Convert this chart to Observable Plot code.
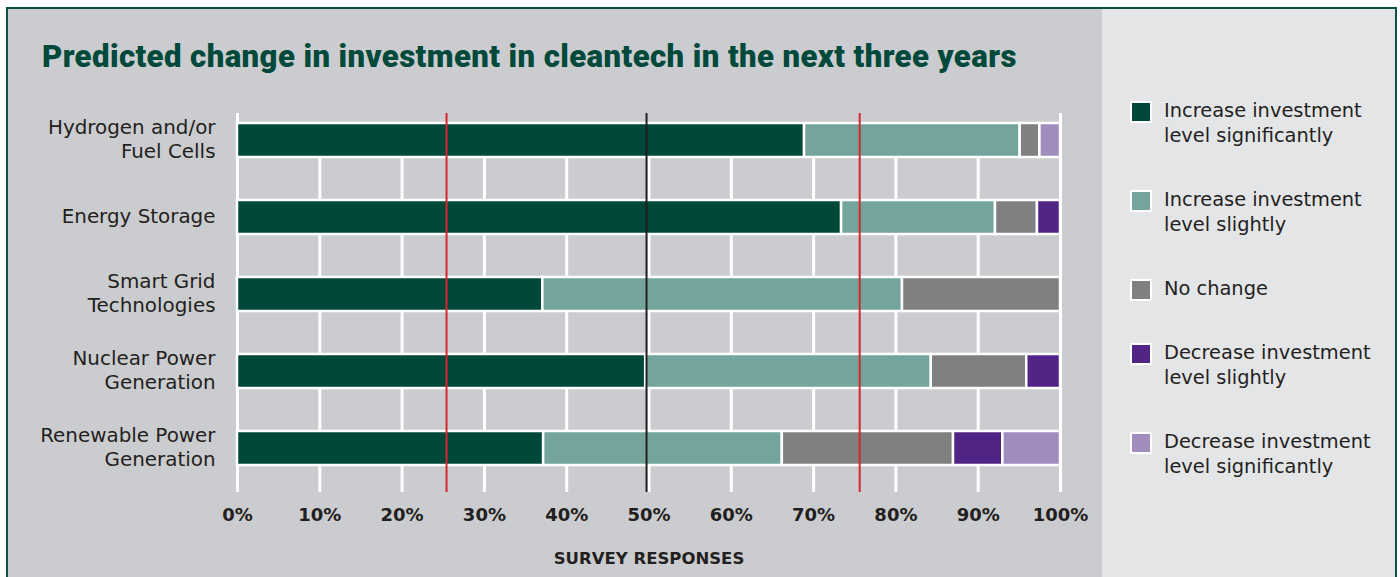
<!DOCTYPE html>
<html>
<head>
<meta charset="utf-8">
<script src="https://cdn.jsdelivr.net/npm/d3@7"></script>
<script src="https://cdn.jsdelivr.net/npm/@observablehq/plot@0.6"></script>
<style>
  html, body { margin: 0; padding: 0; background: #ffffff; }
  body { width: 1400px; height: 577px; position: relative; overflow: hidden; font-family: "DejaVu Sans", sans-serif; }
  #frame { position: absolute; left: 6px; top: 7px; width: 1391px; height: 600px; box-sizing: border-box;
           border: 2.5px solid #0b5040; background: #cbcccf; }
  #side { position: absolute; left: 1102px; top: 9px; width: 293px; height: 600px; background: #e4e5e7; }
  #title { position: absolute; left: 42px; margin: 0; font-family: Roboto, Lato, sans-serif; font-weight: 900;
           font-size: 28px; line-height: 1; color: #00493b; white-space: nowrap; letter-spacing: 0.4px; }
  #chart { position: absolute; left: 0; top: 0; }
  #chart svg { background: transparent; overflow: visible; }
  #legend { position: absolute; left: 1130px; top: 98px; }
  .item { display: flex; align-items: flex-start; margin-bottom: 39px; }
  .sw { width: 18px; height: 18px; border: 2px solid #ffffff; margin-top: 3px; flex: none; }
  .lab { margin-left: 12px; font-size: 19.4px; line-height: 25px; color: #231f20; white-space: pre-line; }
  g[aria-label="x-axis tick label"] text { font-weight: 700; }
  g[aria-label="x-axis label"] text { font-weight: 700; font-size: 16.5px; }
</style>
</head>
<body>
<div id="frame"></div>
<div id="side"></div>
<h1 id="title">Predicted change in investment in cleantech in the next three years</h1>
<div id="chart"></div>
<div id="legend"></div>
<script>
// ---- data ----
const categories = ["Hydrogen and/or\nFuel Cells", "Energy Storage", "Smart Grid\nTechnologies", "Nuclear Power\nGeneration", "Renewable Power\nGeneration"];
const responses = ["Increase investment level significantly", "Increase investment level slightly", "No change", "Decrease investment level slightly", "Decrease investment level significantly"];
const legendLabels = ["Increase investment\nlevel significantly", "Increase investment\nlevel slightly", "No change", "Decrease investment\nlevel slightly", "Decrease investment\nlevel significantly"];
const colors = ["#00483a", "#73a59d", "#807f81", "#512586", "#a08cbd"];
const increaseSignificantly = [68.9, 73.4, 37.1, 49.6, 37.2];
const increaseSlightly      = [26.2, 18.7, 43.7, 34.7, 29.0];
const noChange              = [2.4, 5.1, 19.2, 11.6, 20.8];
const decreaseSlightly      = [0, 2.8, 0, 4.1, 6.0];
const decreaseSignificantly = [2.5, 0, 0, 0, 7.0];
const xTicks = [0, 10, 20, 30, 40, 50, 60, 70, 80, 90, 100];
const quartileLines = [25.4, 75.6];
const medianLine = [49.7];
const xLabel = "SURVEY RESPONSES";

const series = [increaseSignificantly, increaseSlightly, noChange, decreaseSlightly, decreaseSignificantly];
const data = [];
responses.forEach((r, j) => categories.forEach((c, i) => data.push({category: c, response: r, value: series[j][i]})));

const chart = Plot.plot({
  width: 1100,
  height: 577,
  marginLeft: 237,
  marginRight: 40,
  marginTop: 113,
  marginBottom: 102,
  style: {background: "transparent", fontFamily: "'DejaVu Sans', sans-serif", color: "#231f20", overflow: "visible"},
  x: {domain: [0, 100], label: null},
  y: {domain: categories, paddingInner: 0.56, paddingOuter: 0.13, label: null},
  color: {domain: responses, range: colors},
  marks: [
    Plot.ruleX([xTicks[0], xTicks[xTicks.length - 1]], {stroke: "#ffffff", strokeWidth: 3}),
    Plot.ruleX(xTicks.slice(1, -1), {stroke: "#ffffff", strokeWidth: 3, insetTop: 10}),
    Plot.axisX({ticks: xTicks, tickSize: 17, tickPadding: 16, stroke: "#ffffff", strokeWidth: 3,
                tickFormat: d => d + "%", fontSize: 18, fill: "#231f20",
                label: xLabel, labelArrow: false, labelAnchor: "center", labelOffset: 88}),
    Plot.axisY({tickSize: 0, tickPadding: 22, fontSize: 19.9, fill: "#231f20", lineHeight: 1.22, dy: -2, label: null}),
    Plot.barX(data, Plot.stackX({x: "value", y: "category", fill: "response", stroke: "#ffffff", strokeWidth: 2.5})),
    Plot.ruleX(quartileLines, {stroke: "#d7262d", strokeWidth: 2, insetBottom: -17}),
    Plot.ruleX(medianLine, {stroke: "#231f20", strokeWidth: 2, insetBottom: -17})
  ]
});
document.getElementById("chart").appendChild(chart);

// size the title so it spans the same width as the reference
const title = document.getElementById("title");
const targetWidth = 978;
const w = title.getBoundingClientRect().width;
const fs = 28 * targetWidth / w;
title.style.fontSize = fs + "px";
title.style.top = (70 - 0.93 * fs) + "px";

const legend = document.getElementById("legend");
legendLabels.forEach((l, i) => {
  const item = document.createElement("div");
  item.className = "item";
  const sw = document.createElement("div");
  sw.className = "sw";
  sw.style.background = colors[i];
  const lab = document.createElement("div");
  lab.className = "lab";
  lab.textContent = l;
  item.appendChild(sw);
  item.appendChild(lab);
  legend.appendChild(item);
});
</script>
</body>
</html>
